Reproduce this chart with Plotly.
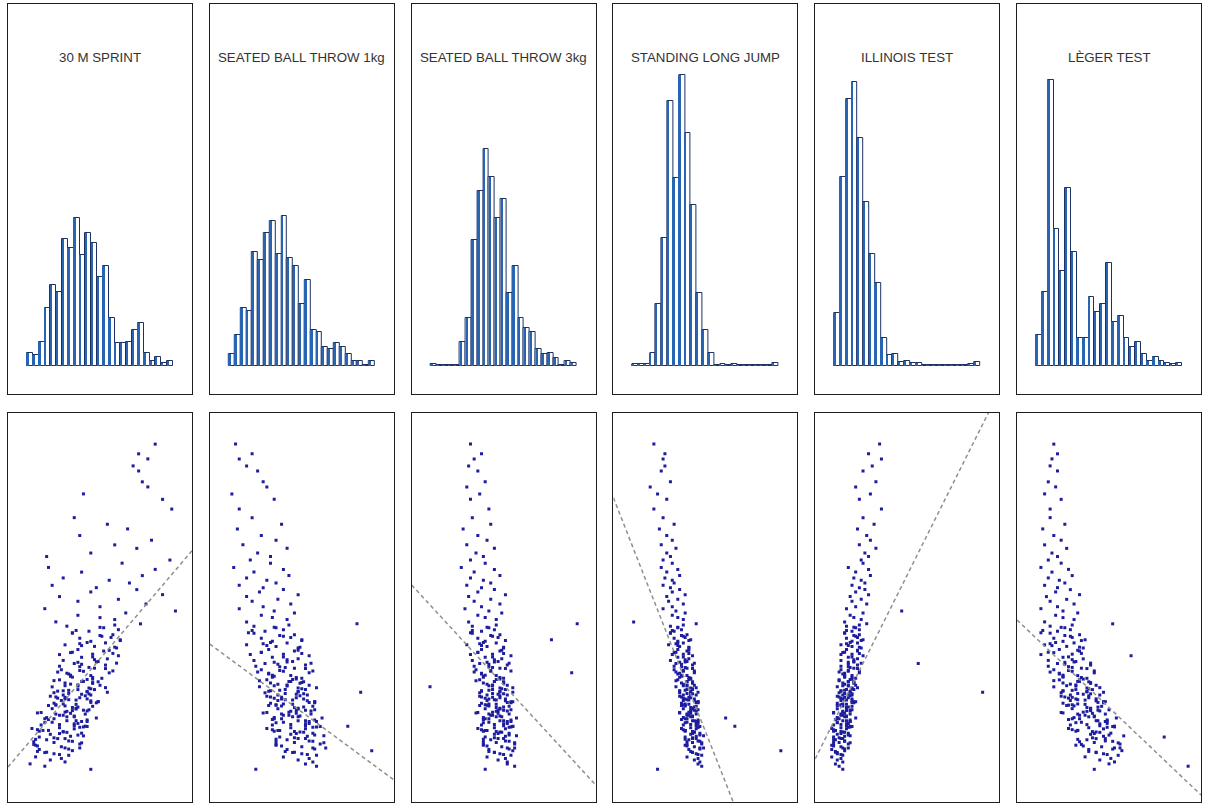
import plotly.graph_objects as go

titles = ["30 M SPRINT", "SEATED BALL THROW 1kg", "SEATED BALL THROW 3kg",
          "STANDING LONG JUMP", "ILLINOIS TEST", "LÈGER TEST"]

# histogram bin counts (one list per test)
hist_sprint = [13, 11, 24, 58, 81, 74, 127, 118, 148, 111, 133, 123, 89, 100, 48, 23, 23, 24, 36, 43, 13, 5, 9, 3, 5]
hist_throw1 = [12, 31, 58, 55, 114, 106, 133, 145, 112, 150, 108, 100, 62, 86, 36, 34, 19, 17, 23, 19, 12, 5, 5, 1, 5]
hist_throw3 = [2, 1, 1, 1, 1, 24, 48, 126, 175, 217, 189, 148, 167, 73, 100, 48, 38, 34, 17, 12, 13, 8, 1, 5, 3]
hist_jump = [2, 2, 2, 13, 62, 128, 265, 188, 291, 233, 161, 73, 36, 13, 1, 2, 1, 2, 1, 1, 1, 1, 1, 1, 3]
hist_illinois = [53, 189, 267, 284, 228, 164, 112, 83, 28, 11, 12, 4, 5, 3, 3, 1, 1, 1, 1, 1, 1, 1, 1, 2, 4]
hist_leger = [31, 74, 286, 137, 95, 178, 114, 28, 28, 69, 54, 62, 103, 44, 50, 28, 19, 24, 12, 5, 9, 5, 3, 2, 3]

# shared outcome (vertical) values of the scatter plots, 0-100 scale
outcome = [
    92.0, 89.5, 88.2, 86.4, 85.1, 82.3, 81.0, 79.2, 77.8, 75.3,
    73.1, 71.4, 70.2, 68.5, 67.3, 66.1, 65.2, 64.0, 63.1, 62.2,
    61.4, 60.3, 59.8, 59.1, 58.2, 57.6, 57.0, 56.3, 55.7, 55.1,
    54.6, 54.0, 53.3, 52.8, 52.1, 51.6, 50.9, 50.2, 49.7, 49.1,
    48.6, 48.0, 47.4, 46.9, 46.3, 45.8, 45.2, 44.8, 44.3, 43.9,
    43.4, 43.0, 42.6, 42.1, 41.7, 41.3, 40.9, 40.4, 40.0, 39.6,
    39.2, 38.8, 38.4, 38.0, 37.6, 37.2, 36.8, 36.4, 36.0, 35.6,
    35.2, 34.8, 34.4, 34.0, 33.6, 33.2, 32.9, 32.5, 32.1, 31.8,
    31.4, 31.0, 30.7, 30.3, 30.0, 29.6, 29.3, 28.9, 28.6, 28.2,
    27.9, 27.5, 27.2, 26.8, 26.5, 26.1, 25.8, 25.4, 25.1, 24.7,
    24.4, 24.0, 23.7, 23.3, 23.0, 22.6, 22.3, 21.9, 21.6, 21.2,
    20.9, 20.5, 20.2, 19.8, 19.5, 19.1, 18.8, 18.4, 18.1, 17.7,
    17.4, 17.0, 16.7, 16.3, 16.0, 15.6, 15.3, 14.9, 14.6, 14.2,
    13.9, 13.5, 13.2, 12.8, 12.4, 12.0, 11.6, 11.2, 10.8, 10.3,
    9.8, 9.2, 8.4, 22.8, 26.9, 30.5, 24.9, 28.4, 33.8, 19.3,
    21.4, 27.7, 25.6, 29.9, 23.5, 18.6, 31.6, 35.9, 20.7, 26.3,
    45.5, 44.1, 42.8, 41.5, 40.2, 39.0, 37.9, 36.6, 35.4, 34.3,
    33.1, 32.0, 31.2, 30.1, 29.4, 28.7, 27.8, 27.0, 26.2, 25.5,
    24.8, 24.1, 23.4, 22.6, 21.9, 21.1, 20.4, 19.6, 18.9, 18.0,
    17.2, 16.5, 15.7, 14.8, 13.9, 13.0, 12.2, 44.9, 43.5, 42.3,
    41.0, 39.8, 38.5, 37.3, 36.1, 34.9, 33.7, 32.6, 31.5, 30.6,
    29.8, 28.9, 28.1, 27.3, 26.5, 25.8, 25.0, 24.3, 23.6, 22.9,
    22.1, 21.4, 20.7, 19.9, 19.2, 18.4, 17.6, 16.9, 16.1, 15.2,
    14.4, 13.6, 12.7, 35.7, 33.4, 31.0, 28.3, 26.7, 24.6, 22.3,
    20.1, 18.2, 16.3, 30.9, 27.5, 23.9, 21.7, 19.4, 25.2, 29.1,
    32.3, 34.6, 38.2, 40.7, 17.9, 15.5, 26.0, 23.1, 20.9, 28.5,
]

# test scores (horizontal), 0-100 scale, same order as outcome
x_sprint = [
    80, 71, 76, 68, 71, 73, 76, 41, 84, 89,
    36, 54, 65, 39, 78, 58, 70, 45, 21, 88,
    62, 22, 80, 40, 73, 30, 55, 66, 24, 48,
    70, 45, 84, 28, 60, 38, 75, 50, 20, 91,
    64, 38, 50, 58, 26, 72, 32, 52, 60, 44,
    35, 57, 51, 39, 61, 45, 53, 31, 47, 59,
    38, 52, 34, 46, 60, 40, 54, 30, 48, 36,
    53, 39, 47, 29, 41, 55, 33, 45, 35, 51,
    28, 40, 46, 34, 50, 24, 44, 38, 30, 54,
    33, 45, 23, 39, 43, 29, 49, 25, 37, 31,
    38, 24, 44, 32, 18, 42, 28, 36, 48, 22,
    32, 24, 38, 18, 42, 28, 36, 22, 30, 40,
    23, 41, 17, 31, 21, 35, 25, 39, 15, 29,
    31, 17, 35, 21, 25, 33, 15, 29, 23, 31,
    12, 20, 45, 34, 31, 46, 26, 43, 39, 41,
    20, 40, 45, 31, 35, 16, 46, 38, 40, 33,
    58, 37, 50, 61, 40, 55, 28, 47, 40, 53,
    32, 46, 25, 38, 53, 33, 44, 26, 37, 48,
    22, 37, 43, 26, 32, 43, 20, 36, 13, 30,
    38, 25, 33, 14, 39, 16, 28, 50, 35, 56,
    43, 58, 35, 46, 49, 28, 57, 34, 43, 31,
    38, 47, 25, 42, 31, 49, 26, 35, 41, 16,
    36, 25, 43, 28, 39, 19, 28, 34, 15, 40,
    16, 33, 20, 59, 27, 41, 43, 27, 46, 30,
    36, 17, 27, 49, 30, 37, 21, 43, 30, 45,
    34, 44, 57, 39, 32, 14, 45, 31, 37, 27,
]
x_throw1 = [
    14, 23, 16, 20, 26, 29, 31, 12, 35, 16,
    23, 39, 15, 28, 36, 18, 42, 26, 33, 22,
    33, 13, 40, 24, 43, 20, 31, 36, 16, 29,
    40, 27, 48, 20, 37, 23, 44, 29, 16, 35,
    46, 28, 34, 42, 20, 80, 24, 36, 40, 30,
    24, 46, 40, 28, 50, 34, 42, 20, 36, 48,
    32, 46, 28, 40, 54, 34, 48, 24, 42, 30,
    52, 38, 46, 28, 40, 54, 32, 44, 34, 50,
    31, 44, 50, 37, 54, 27, 48, 41, 33, 82,
    41, 53, 31, 47, 51, 37, 57, 33, 45, 39,
    51, 37, 57, 44, 31, 55, 40, 48, 61, 34,
    48, 40, 54, 34, 75, 44, 52, 38, 46, 56,
    44, 62, 38, 52, 42, 56, 46, 60, 36, 50,
    56, 42, 88, 46, 50, 58, 40, 54, 48, 56,
    52, 58, 25, 47, 39, 49, 36, 48, 38, 58,
    35, 47, 54, 35, 47, 34, 47, 35, 54, 41,
    43, 23, 38, 50, 31, 48, 22, 42, 37, 52,
    32, 47, 27, 42, 58, 38, 51, 33, 45, 57,
    32, 48, 55, 39, 45, 57, 36, 52, 31, 49,
    57, 46, 54, 36, 63, 41, 53, 35, 21, 44,
    33, 49, 28, 40, 45, 25, 56, 34, 45, 33,
    42, 52, 30, 49, 39, 57, 36, 46, 52, 29,
    49, 39, 58, 44, 56, 37, 47, 53, 36, 62,
    39, 57, 45, 55, 26, 43, 48, 35, 56, 43,
    52, 35, 48, 51, 37, 48, 35, 60, 40, 50,
    35, 41, 50, 29, 51, 36, 53, 43, 52, 32,
]
x_throw3 = [
    32, 38, 34, 31, 36, 40, 30, 37, 32, 42,
    33, 43, 28, 36, 41, 30, 45, 35, 39, 32,
    40, 27, 45, 34, 48, 32, 39, 43, 30, 38,
    45, 36, 51, 31, 43, 34, 48, 38, 29, 42,
    49, 36, 40, 46, 31, 90, 33, 42, 45, 38,
    33, 48, 44, 36, 76, 40, 46, 30, 41, 50,
    38, 48, 36, 44, 54, 40, 49, 33, 45, 37,
    52, 42, 48, 35, 43, 87, 38, 46, 39, 50,
    37, 45, 50, 41, 52, 10, 48, 44, 38, 55,
    44, 52, 37, 48, 51, 41, 55, 38, 46, 42,
    50, 40, 54, 46, 36, 53, 43, 49, 57, 39,
    48, 42, 52, 38, 55, 45, 51, 41, 46, 53,
    45, 57, 40, 50, 43, 53, 46, 56, 39, 49,
    52, 42, 55, 45, 48, 54, 41, 51, 47, 52,
    52, 56, 40, 47, 44, 50, 41, 48, 43, 54,
    40, 47, 52, 42, 47, 38, 48, 41, 52, 45,
    46, 33, 43, 51, 38, 49, 32, 45, 42, 51,
    38, 48, 35, 44, 55, 42, 50, 38, 46, 54,
    37, 48, 52, 42, 46, 54, 39, 50, 36, 48,
    53, 45, 51, 39, 56, 42, 50, 41, 32, 47,
    39, 50, 36, 44, 47, 34, 54, 40, 46, 39,
    44, 51, 37, 48, 42, 54, 40, 46, 50, 35,
    48, 42, 54, 45, 53, 40, 47, 51, 39, 56,
    41, 53, 45, 53, 34, 45, 48, 40, 53, 44,
    50, 39, 47, 50, 41, 48, 39, 55, 42, 49,
    39, 44, 50, 37, 49, 39, 51, 44, 50, 38,
]
x_jump = [
    22, 28, 27, 28, 26, 31, 20, 24, 29, 22,
    27, 33, 25, 29, 32, 26, 34, 29, 31, 27,
    32, 26, 35, 29, 36, 28, 32, 33, 27, 31,
    36, 32, 39, 29, 35, 30, 38, 32, 27, 34,
    39, 32, 35, 38, 11, 45, 31, 35, 37, 33,
    31, 40, 38, 33, 42, 35, 38, 30, 36, 41,
    35, 40, 33, 38, 43, 35, 41, 31, 39, 34,
    43, 37, 40, 33, 38, 44, 35, 40, 36, 42,
    35, 40, 43, 38, 44, 34, 42, 40, 36, 46,
    40, 45, 36, 42, 44, 38, 46, 37, 41, 39,
    44, 38, 46, 42, 36, 45, 40, 43, 61, 37,
    43, 40, 46, 38, 66, 42, 45, 39, 43, 47,
    42, 49, 39, 45, 41, 47, 43, 48, 39, 44,
    47, 41, 91, 43, 45, 48, 40, 46, 44, 47,
    46, 48, 24, 42, 41, 43, 39, 42, 38, 46,
    39, 42, 45, 38, 42, 38, 42, 36, 45, 40,
    38, 32, 37, 41, 35, 41, 32, 39, 37, 43,
    36, 41, 34, 40, 45, 39, 43, 37, 41, 46,
    37, 43, 45, 40, 42, 46, 39, 45, 37, 44,
    47, 43, 46, 40, 49, 42, 46, 35, 31, 39,
    35, 41, 34, 38, 40, 33, 44, 37, 41, 37,
    40, 43, 36, 42, 39, 46, 38, 42, 44, 36,
    43, 40, 46, 42, 46, 39, 43, 45, 39, 48,
    40, 47, 43, 44, 34, 40, 42, 38, 45, 41,
    45, 39, 43, 43, 38, 43, 38, 47, 39, 43,
    37, 39, 41, 34, 44, 40, 44, 41, 44, 36,
]
x_illinois = [
    35, 29, 36, 31, 26, 33, 22, 30, 24, 36,
    26, 32, 23, 28, 30, 24, 33, 27, 29, 25,
    26, 18, 29, 22, 30, 21, 25, 27, 20, 24,
    27, 22, 29, 19, 25, 20, 28, 22, 17, 47,
    26, 19, 21, 25, 16, 28, 17, 22, 24, 20,
    16, 24, 22, 17, 26, 20, 23, 14, 20, 25,
    17, 23, 15, 20, 26, 18, 23, 14, 21, 56,
    23, 18, 21, 14, 18, 24, 15, 20, 16, 22,
    13, 18, 21, 16, 22, 12, 20, 17, 14, 91,
    16, 20, 12, 18, 20, 14, 22, 12, 17, 15,
    18, 12, 20, 15, 10, 19, 14, 17, 22, 11,
    15, 12, 18, 10, 19, 14, 17, 11, 14, 18,
    12, 19, 10, 15, 11, 16, 13, 18, 9, 14,
    15, 9, 16, 11, 12, 15, 9, 14, 12, 15,
    11, 13, 15, 16, 16, 21, 14, 19, 18, 19,
    12, 18, 20, 15, 17, 10, 20, 18, 19, 16,
    24, 17, 21, 25, 18, 23, 14, 21, 18, 23,
    16, 20, 13, 18, 23, 16, 20, 13, 17, 21,
    12, 17, 19, 14, 16, 19, 12, 17, 9, 15,
    18, 13, 16, 10, 18, 11, 14, 21, 16, 23,
    19, 24, 16, 20, 21, 14, 24, 16, 19, 15,
    18, 21, 13, 19, 15, 21, 14, 17, 19, 10,
    17, 13, 19, 14, 18, 11, 14, 16, 10, 19,
    10, 16, 12, 25, 13, 18, 19, 14, 20, 15,
    17, 10, 14, 21, 15, 17, 12, 20, 15, 20,
    16, 19, 24, 17, 16, 10, 20, 15, 17, 14,
]
x_leger = [
    20, 22, 19, 18, 22, 17, 21, 15, 24, 18,
    18, 26, 14, 20, 24, 15, 27, 19, 22, 17,
    24, 13, 28, 19, 30, 17, 23, 26, 15, 22,
    29, 21, 34, 16, 27, 18, 31, 22, 13, 25,
    33, 21, 25, 31, 15, 52, 18, 26, 29, 22,
    18, 34, 29, 20, 37, 25, 31, 15, 27, 36,
    23, 34, 20, 30, 62, 25, 36, 17, 31, 22,
    40, 28, 35, 20, 30, 42, 23, 33, 25, 38,
    23, 34, 40, 29, 43, 20, 38, 32, 25, 47,
    33, 45, 24, 39, 43, 29, 48, 25, 37, 31,
    44, 30, 50, 38, 24, 48, 34, 42, 54, 28,
    43, 35, 49, 29, 53, 39, 47, 33, 41, 51,
    40, 58, 80, 48, 38, 52, 42, 56, 32, 46,
    53, 39, 57, 43, 47, 55, 37, 51, 45, 53,
    50, 93, 42, 41, 30, 40, 28, 38, 28, 53,
    30, 36, 44, 27, 40, 30, 36, 26, 48, 33,
    30, 14, 26, 35, 19, 33, 13, 30, 26, 38,
    23, 35, 20, 32, 45, 30, 40, 26, 37, 47,
    27, 40, 45, 33, 39, 49, 32, 45, 28, 43,
    50, 41, 48, 35, 56, 39, 49, 24, 13, 30,
    21, 34, 17, 28, 32, 17, 42, 25, 34, 25,
    32, 41, 24, 39, 32, 47, 30, 38, 44, 25,
    42, 34, 49, 38, 49, 33, 42, 47, 33, 55,
    36, 52, 43, 40, 18, 33, 38, 28, 46, 37,
    45, 32, 43, 39, 29, 40, 31, 52, 33, 39,
    25, 30, 35, 18, 45, 34, 43, 36, 44, 25,
]

# fitted regression lines (intercept, slope) on the 0-100 scales
fit_intercepts = [9.0, 40.6, 55.8, 78.2, 11.1, 46.8]
fit_slopes = [0.556, -0.349, -0.514, -1.201, 0.945, -0.45]

hists = [hist_sprint, hist_throw1, hist_throw3, hist_jump, hist_illinois, hist_leger]
xs_all = [x_sprint, x_throw1, x_throw3, x_jump, x_illinois, x_leger]

W, H = 1209, 808
fig = go.Figure()
layout_axes = {}


def ax_id(k):
    return "" if k == 1 else str(k)


axis_style = dict(showline=True, mirror=True, linecolor="#1e1e1e", linewidth=1,
                  showticklabels=False, ticks="", showgrid=False, zeroline=False,
                  fixedrange=True)

for i in range(6):
    left = (8 + 201.8 * i) / W
    right = (192 + 201.8 * i) / W
    kt, kb = ax_id(i + 1), ax_id(i + 7)
    counts = hists[i]
    n = len(counts)
    idx = list(range(n))
    fig.add_trace(go.Bar(x=idx, y=counts, width=1,
                         marker=dict(color="white", line=dict(color="#1d3163", width=1)),
                         xaxis=f"x{kt}", yaxis=f"y{kt}", hoverinfo="skip"))
    fig.add_trace(go.Bar(x=idx, y=counts, width=0.32, offset=-0.5,
                         marker=dict(color="#2764b4", line=dict(width=0)),
                         xaxis=f"x{kt}", yaxis=f"y{kt}", hoverinfo="skip"))
    pad = 3.25
    layout_axes[f"xaxis{kt}"] = dict(axis_style, domain=[left, right], anchor=f"y{kt}",
                                     range=[-0.5 - pad, n - 0.5 + pad])
    layout_axes[f"yaxis{kt}"] = dict(axis_style, domain=[1 - 394 / H, 1 - 4 / H], anchor=f"x{kt}",
                                     range=[-28, 362])

    fig.add_trace(go.Scatter(x=xs_all[i], y=outcome, mode="markers",
                             marker=dict(symbol="square", size=3, color="#1d1d9e", line=dict(width=0)),
                             xaxis=f"x{kb}", yaxis=f"y{kb}", hoverinfo="skip"))
    a, b = fit_intercepts[i], fit_slopes[i]
    fig.add_trace(go.Scatter(x=[0, 100], y=[a, a + 100 * b], mode="lines",
                             line=dict(color="#8f8f8f", width=1.5, dash="4px,3px"),
                             xaxis=f"x{kb}", yaxis=f"y{kb}", hoverinfo="skip"))
    layout_axes[f"xaxis{kb}"] = dict(axis_style, domain=[left, right], anchor=f"y{kb}",
                                     range=[0, 100])
    layout_axes[f"yaxis{kb}"] = dict(axis_style, domain=[1 - 802 / H, 1 - 413 / H], anchor=f"x{kb}",
                                     range=[0, 100])

annotations = [
    dict(text=titles[i], xref=f"x{ax_id(i + 1)} domain", yref=f"y{ax_id(i + 1)} domain",
         x=0.5, y=0.864, showarrow=False, xanchor="center", yanchor="middle",
         font=dict(family="Liberation Sans, Arial, sans-serif", size=13.3, color="#333333"))
    for i in range(6)
]

fig.update_layout(width=W, height=H, margin=dict(l=0, r=0, t=0, b=0),
                  paper_bgcolor="white", plot_bgcolor="white", showlegend=False,
                  barmode="overlay", bargap=0, annotations=annotations, **layout_axes)

fig.write_html("out.html", config={"displayModeBar": False},
               post_script="document.body.style.margin='0';document.body.style.overflow='hidden';")
